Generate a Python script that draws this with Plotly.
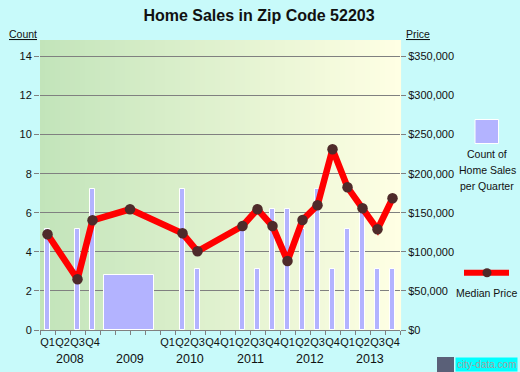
import plotly.graph_objects as go

# ---------------- data ----------------
quarter_labels = ["Q1", "Q2", "Q3", "Q4",      # 2008
                  "", "", "", "",              # 2009 (annual only)
                  "Q1", "Q2", "Q3", "Q4",      # 2010
                  "Q1", "Q2", "Q3", "Q4",      # 2011
                  "Q1", "Q2", "Q3", "Q4",      # 2012
                  "Q1", "Q2", "Q3", "Q4"]      # 2013
years = ["2008", "2009", "2010", "2011", "2012", "2013"]

# quarterly sales counts (x = quarter index from 2008 Q1)
count_x = [0, 2, 3, 9, 10, 13, 14, 15, 16, 17, 18, 19, 20, 21, 22, 23]
counts = [5.15, 5.15, 7.2, 7.2, 3.1, 5.15, 3.1, 6.2, 6.2, 5.15, 7.2, 3.1, 5.15, 6.2, 3.1, 3.1]

# 2009 reported as one yearly block
year2009_x = [5.45]
year2009_count = [2.83]

# median price
price_x = [0, 2, 3, 5.5, 9, 10, 13, 14, 15, 16, 17, 18, 19, 20, 21, 22, 23]
prices = [122400, 64900, 140300, 154400, 123700, 100700, 133000, 154400, 133000,
          88300, 140700, 159600, 231200, 182600, 155700, 128800, 168500]

count_ticks = [0, 2, 4, 6, 8, 10, 12, 14]
price_ticks = [0, 50000, 100000, 150000, 200000, 250000, 300000, 350000]
price_ticktext = ["$0", "$50,000", "$100,000", "$150,000", "$200,000",
                  "$250,000", "$300,000", "$350,000"]
legend_lines = ["Count of", "Home Sales", "per Quarter"]

# ---------------- styling / geometry ----------------
W, H = 520, 372
L, R, T, B = 40, 120, 40, 42
PW, PH = W - L - R, H - T - B
COUNT_MAX = 14.84
FONT = "Liberation Sans, Arial, sans-serif"
BAR_COLOR = "#B3B3FF"
GRID = "#808080"


def px_x(p):
    return (p - L) / PW


def px_y(p):
    return (H - B - p) / PH


fig = go.Figure()

fig.add_trace(go.Bar(x=count_x, y=counts, width=0.36, marker=dict(color=BAR_COLOR, line=dict(color="white", width=1)),
                     yaxis="y", showlegend=False, hoverinfo="skip"))
fig.add_trace(go.Bar(x=year2009_x, y=year2009_count, width=3.33,
                     marker=dict(color=BAR_COLOR, line=dict(color="white", width=1)),
                     yaxis="y", showlegend=False, hoverinfo="skip"))
fig.add_trace(go.Scatter(x=price_x, y=prices, mode="lines+markers", yaxis="y2",
                         line=dict(color="#FF0000", width=6.5),
                         marker=dict(color="#4E2A2A", size=10.5),
                         showlegend=False, hoverinfo="skip"))

# gradient plot background (strips drawn below gridlines)
shapes = []
N = 72
c0 = (194, 228, 186)
c1 = (255, 255, 228)
for i in range(N):
    t = (i + 0.5) / N
    col = tuple(round(a + (b - a) * t) for a, b in zip(c0, c1))
    shapes.append(dict(type="rect", xref="paper", yref="paper", x0=i / N, x1=(i + 1) / N + 0.003,
                       y0=0, y1=1, fillcolor="rgb(%d,%d,%d)" % col, line=dict(width=0), layer="below"))

# legend: count swatch
shapes.append(dict(type="rect", xref="paper", yref="paper", x0=px_x(475), x1=px_x(498.5),
                   y0=px_y(143.5), y1=px_y(119.5), fillcolor=BAR_COLOR, line=dict(color="white", width=1)))
# legend: median price line + dot
shapes.append(dict(type="line", xref="paper", yref="paper", x0=px_x(464), x1=px_x(509),
                   y0=px_y(272.7), y1=px_y(272.7), line=dict(color="#FF0000", width=6)))
shapes.append(dict(type="circle", xref="paper", yref="paper", x0=px_x(482.5), x1=px_x(491.5),
                   y0=px_y(277.2), y1=px_y(268.2), fillcolor="#4E2A2A", line=dict(width=0)))
# logo icon
shapes.append(dict(type="rect", xref="paper", yref="paper", x0=px_x(437), x1=px_x(454),
                   y0=px_y(372), y1=px_y(357), fillcolor="#5A6078", line=dict(width=0)))

annotations = []
year_centers = [1.5, 5.5, 9.5, 13.5, 17.5, 21.5]
for xc, yr in zip(year_centers, years):
    annotations.append(dict(x=xc, xref="x", y=px_y(358.5), yref="paper", text=yr, showarrow=False,
                            font=dict(family=FONT, size=12.5, color="#111"), xanchor="center", yanchor="middle"))
for k, line in enumerate(legend_lines):
    annotations.append(dict(x=px_x(487), xref="paper", y=px_y(154 + 16 * k), yref="paper", text=line,
                            showarrow=False, font=dict(family=FONT, size=10.5, color="#111"),
                            xanchor="center", yanchor="middle"))
annotations.append(dict(x=px_x(486), xref="paper", y=px_y(292.7), yref="paper", text="Median Price",
                        showarrow=False, font=dict(family=FONT, size=10.5, color="#111"),
                        xanchor="center", yanchor="middle"))
annotations.append(dict(x=px_x(22.5), xref="paper", y=px_y(34), yref="paper", text="<u>Count</u>",
                        showarrow=False, font=dict(family=FONT, size=10.5, color="#111"),
                        xanchor="center", yanchor="middle"))
annotations.append(dict(x=px_x(418), xref="paper", y=px_y(34), yref="paper", text="<u>Price</u>",
                        showarrow=False, font=dict(family=FONT, size=10.5, color="#111"),
                        xanchor="center", yanchor="middle"))
annotations.append(dict(x=px_x(518), xref="paper", y=px_y(364.5), yref="paper", text="city-data.com",
                        showarrow=False, font=dict(family=FONT, size=10, color="#A0A0A0"),
                        bgcolor="#00FFFF", borderpad=1, xanchor="right", yanchor="middle"))

fig.update_layout(
    width=W, height=H,
    margin=dict(l=L, r=R, t=T, b=B),
    paper_bgcolor="#C8FAFA",
    plot_bgcolor="rgba(0,0,0,0)",
    font=dict(family=FONT, size=11, color="#111"),
    title=dict(text="<b>Home Sales in Zip Code 52203</b>", x=259 / W, xref="container", xanchor="center",
               y=1 - 15 / H, yref="container", yanchor="middle",
               font=dict(family=FONT, size=16, color="#111")),
    bargap=0, barmode="overlay",
    xaxis=dict(range=[-0.5, 23.5], tickmode="array", tickvals=list(range(24)), ticktext=quarter_labels,
               ticks="", showgrid=False, zeroline=False, showline=True, linecolor=GRID, linewidth=1,
               tickangle=0, tickfont=dict(family=FONT, size=11, color="#111"), ticklabelstandoff=2,
               minor=dict(tickmode="array", tickvals=[i - 0.5 for i in range(25)], ticks="outside",
                          ticklen=4, tickcolor=GRID, tickwidth=1, showgrid=False),
               fixedrange=True),
    yaxis=dict(range=[0, COUNT_MAX], tickmode="array", tickvals=count_ticks, ticks="outside", ticklen=5,
               tickcolor=GRID, showgrid=True, gridcolor=GRID, gridwidth=1, zeroline=False, showline=False,
               tickfont=dict(family=FONT, size=11, color="#111"), fixedrange=True),
    yaxis2=dict(range=[0, COUNT_MAX * 25000], overlaying="y", side="right", tickmode="array",
                tickvals=price_ticks, ticktext=price_ticktext, ticks="outside", ticklen=5, tickcolor=GRID,
                showgrid=False, zeroline=False, showline=False,
                tickfont=dict(family=FONT, size=11, color="#111"), fixedrange=True),
    shapes=shapes,
    annotations=annotations,
)

fig.write_html("out.html", config={"displayModeBar": False},
               post_script="document.body.style.margin='0';")
